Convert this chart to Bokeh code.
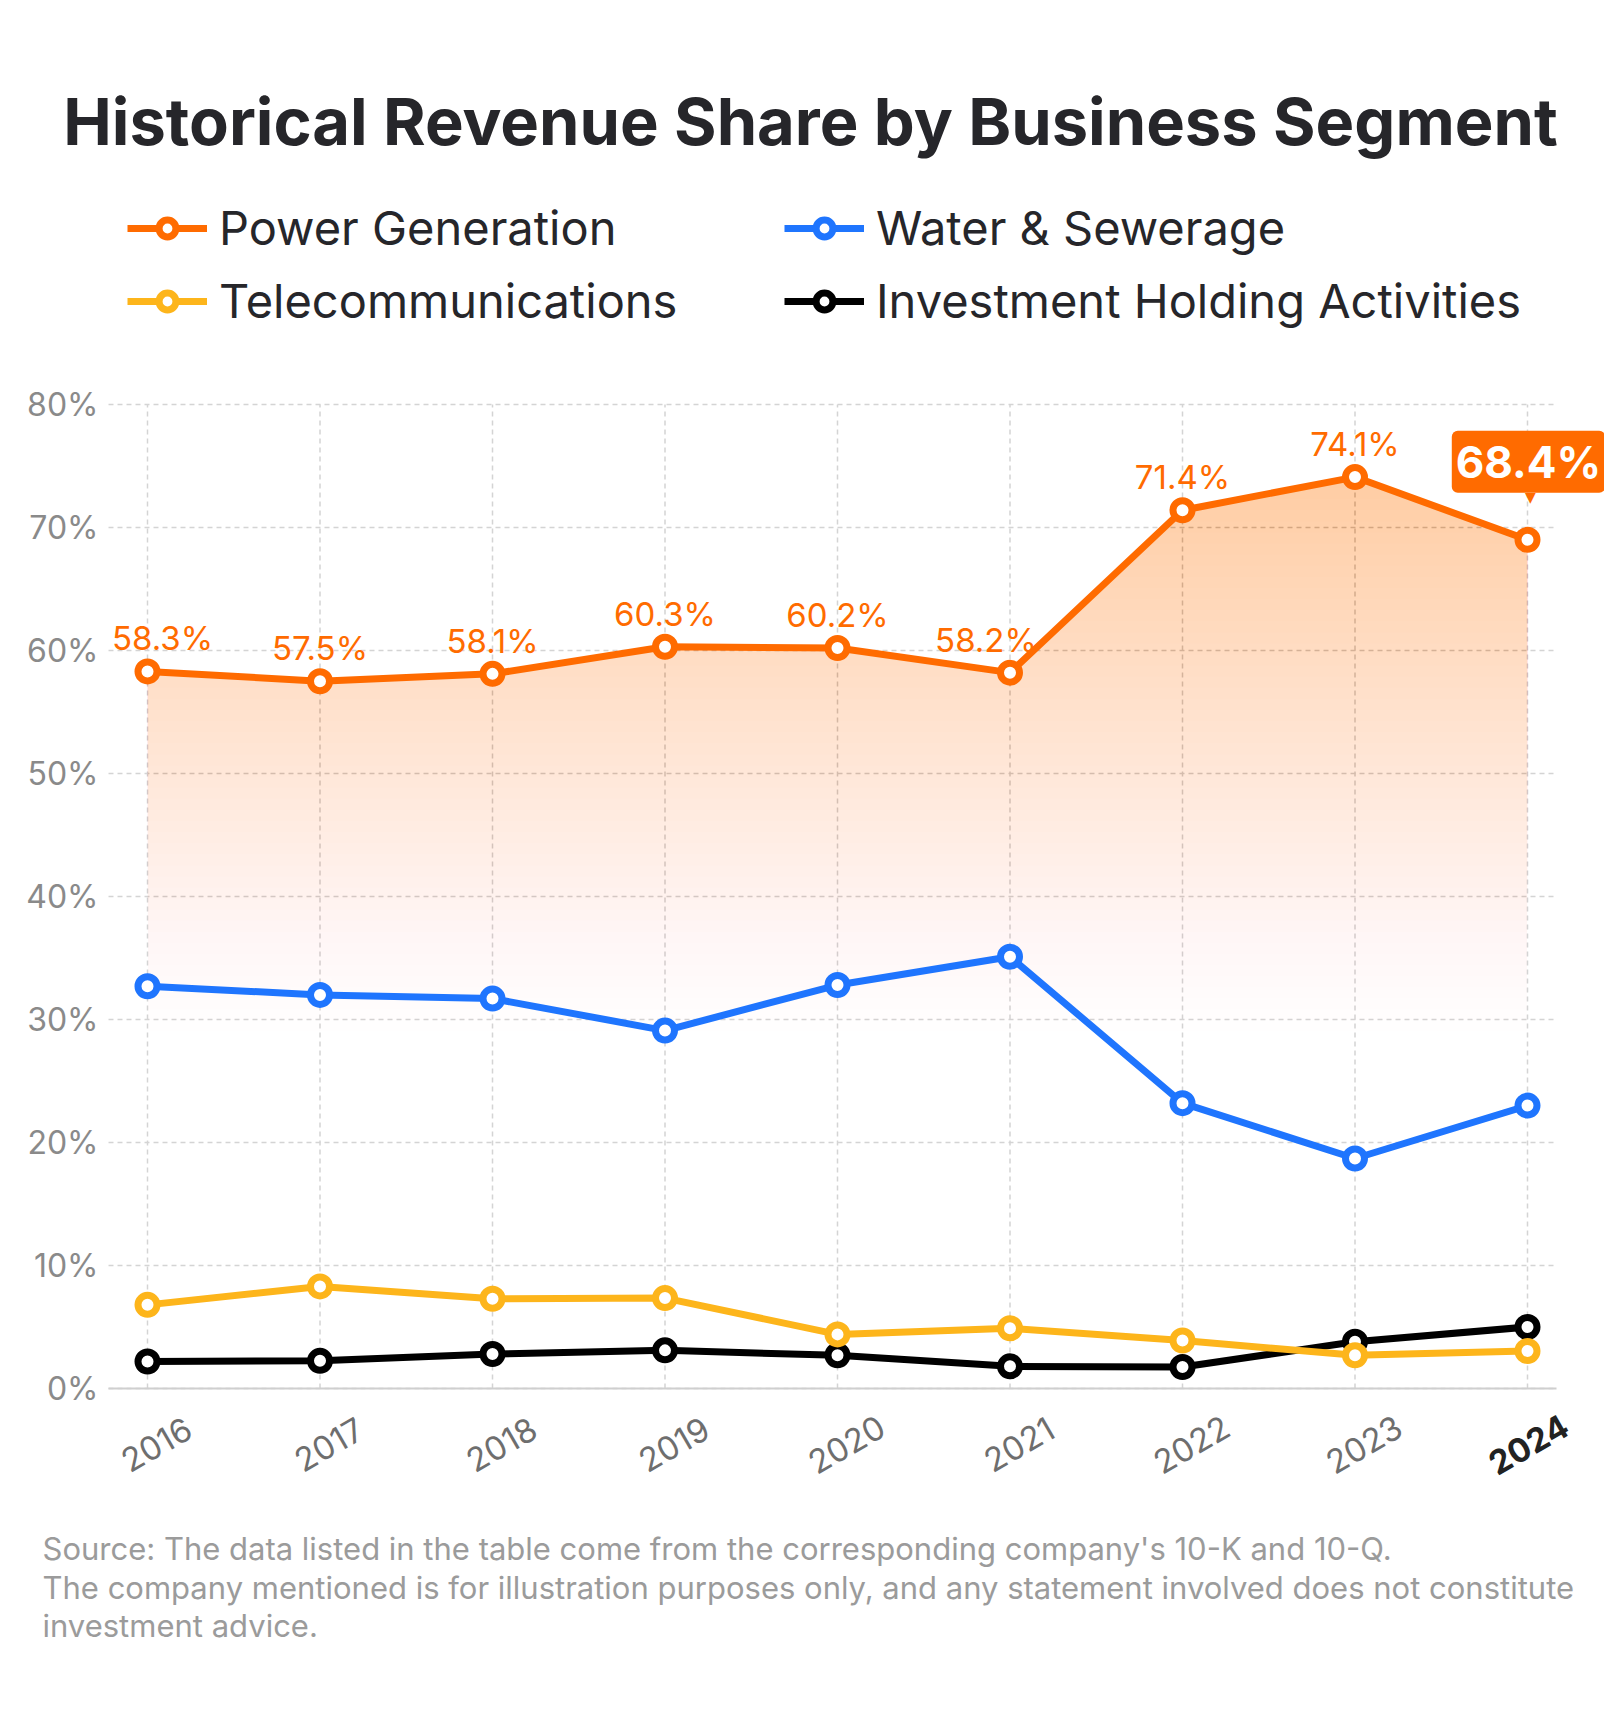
import numpy as np
from bokeh.plotting import figure
from bokeh.models import (Range1d, Label, ColumnDataSource, Legend, LegendItem)
from bokeh.core.properties import value
from bokeh.embed import file_html
from bokeh.resources import INLINE

# ---------------- data ----------------
years = ["2016", "2017", "2018", "2019", "2020", "2021", "2022", "2023", "2024"]
power_generation = [58.3, 57.5, 58.1, 60.3, 60.2, 58.2, 71.4, 74.1, 69.0]
power_labels = ["58.3%", "57.5%", "58.1%", "60.3%", "60.2%", "58.2%", "71.4%", "74.1%", "68.4%"]
water_sewerage = [32.7, 32.0, 31.7, 29.1, 32.8, 35.1, 23.2, 18.7, 23.0]
telecommunications = [6.8, 8.3, 7.3, 7.35, 4.4, 4.9, 3.9, 2.7, 3.05]
investment_holding = [2.2, 2.25, 2.8, 3.1, 2.7, 1.8, 1.75, 3.8, 5.0]
series_names = ["Power Generation", "Water & Sewerage", "Telecommunications",
                "Investment Holding Activities"]
y_ticks = [0, 10, 20, 30, 40, 50, 60, 70, 80]
y_tick_labels = ["0%", "10%", "20%", "30%", "40%", "50%", "60%", "70%", "80%"]
title_text = "Historical Revenue Share by Business Segment"
footer_lines = [
    "Source: The data listed in the table come from the corresponding company's 10-K and 10-Q.",
    "The company mentioned is for illustration purposes only, and any statement involved does not constitute",
    "investment advice.",
]

# ---------------- layout / styles ----------------
W, H = 1604, 1710
FONT = "Inter"
ORANGE = "#FF6B00"
BLUE = "#1F75FE"
YELLOW = "#FDB51B"
BLACK = "#000000"
colors = [ORANGE, BLUE, YELLOW, BLACK]
label_shift = [15, 0, 0, 0, 0, -24, 0, 0]   # horizontal nudges of value labels (px)

# pixel geometry of the plotting area
X0_PX, DX_PX = 147.0, 172.5      # pixel x of first category, pixels per category
Y0_PX, DY_PX = 1388.0, 12.3      # pixel y of 0 %, pixels per percentage point
AREA_LEFT_PX, AREA_RIGHT_PX = 108.0, 1556.0


def px_x(u):
    return (u - X0_PX) / DX_PX


def px_y(v):
    return (Y0_PX - v) / DY_PX


xs = np.arange(len(years))
gx0, gx1 = px_x(AREA_LEFT_PX), px_x(AREA_RIGHT_PX)

p = figure(width=W, height=H,
           x_range=Range1d(px_x(0), px_x(W)), y_range=Range1d(px_y(H), px_y(0)),
           min_border=0, toolbar_location=None, output_backend="svg",
           outline_line_color=None, background_fill_color="white",
           border_fill_color="white")
p.axis.visible = False
p.grid.visible = False

# grid
grid_kw = dict(line_color="#d4d4d4", line_width=1.5, line_dash="5 4")
p.segment(x0=[gx0] * len(y_ticks), x1=[gx1] * len(y_ticks), y0=y_ticks, y1=y_ticks, **grid_kw)
p.segment(x0=xs, x1=xs, y0=[y_ticks[0]] * len(xs), y1=[y_ticks[-1]] * len(xs), **grid_kw)
p.segment(x0=[gx0], x1=[gx1], y0=[y_ticks[0]], y1=[y_ticks[0]],
          line_color="#cfcfcf", line_width=2)

# y tick labels
p.text(x=[gx0] * len(y_ticks), y=y_ticks, text=y_tick_labels, x_offset=-10,
       text_align="right", text_baseline="middle", text_font=value(FONT),
       text_font_size="32px", text_color="#8a8a8a")

# gradient area under power generation (stacked translucent layers)
ys = np.array(power_generation, dtype=float)
floor, top, top_alpha, n = 29.0, ys.max(), 0.28, 50
prev = 0.0
for k in range(n):
    lo = floor + (top - floor) * k / n
    target = top_alpha * (k + 1) / n
    a = 1 - (1 - target) / (1 - prev)
    prev = target
    pts = set(xs.tolist())
    for i in range(len(xs) - 1):
        y0, y1 = ys[i], ys[i + 1]
        if (y0 - lo) * (y1 - lo) < 0:
            pts.add(xs[i] + (lo - y0) / (y1 - y0))
    X = np.array(sorted(pts))
    L = np.interp(X, xs, ys)
    p.varea(x=X, y1=np.minimum(lo, L), y2=L, fill_color=ORANGE, fill_alpha=a)

# series
all_series = [power_generation, water_sewerage, telecommunications, investment_holding]
renderers = []
for vals, col in list(zip(all_series, colors))[::-1]:
    lr = p.line(xs, vals, line_color=col, line_width=7)
    sr = p.scatter(xs, vals, size=19, marker="circle", fill_color="white",
                   line_color=col, line_width=7)
    renderers.append((lr, sr))
renderers = renderers[::-1]

# value labels on power generation
lab_src = ColumnDataSource(dict(x=xs[:-1], y=power_generation[:-1],
                                t=power_labels[:-1], dx=label_shift))
p.text(x="x", y="y", text="t", source=lab_src, x_offset="dx", y_offset=-33,
       text_align="center", text_baseline="alphabetic",
       text_font=value(FONT), text_font_size="33px", text_color=ORANGE)

# callout for the latest value
p.add_layout(Label(x=xs[-1], y=power_generation[-1], text=power_labels[-1],
                   x_offset=1, y_offset=78, text_align="center", text_baseline="middle",
                   text_font=FONT, text_font_size="44px", text_font_style="bold",
                   text_color="white", background_fill_color=ORANGE,
                   border_radius=6, padding=4))
p.add_layout(Label(x=xs[-1], y=power_generation[-1], text="\u25BC",
                   x_offset=3, y_offset=43, text_align="center", text_baseline="middle",
                   text_font="DejaVu Sans", text_font_size="14px", text_color=ORANGE))

# x tick labels (rotated)
tick_y = px_y(1444)
p.text(x=xs[:-1], y=[tick_y] * (len(xs) - 1), text=years[:-1], x_offset=9,
       angle=np.pi / 6, text_align="center", text_baseline="middle",
       text_font=value(FONT), text_font_size="33px", text_color="#6e6e6e")
p.text(x=xs[-1:], y=[tick_y], text=years[-1:], x_offset=1,
       angle=np.pi / 6, text_align="center", text_baseline="middle",
       text_font=value(FONT), text_font_size="33px", text_font_style="bold",
       text_color="#222222")

# title
p.add_layout(Label(x=W / 2 + 8, y=H - 121, x_units="screen", y_units="screen", text=title_text,
                   text_align="center", text_baseline="alphabetic", text_font=FONT,
                   text_font_size="65px", text_font_style="bold", text_color="#26262a"))

# legend (four single-item legends laid out as a 2x2 grid)
leg_pos = [(127, H - 256), (784, H - 256), (127, H - 329), (784, H - 329)]
for (lr, sr), name, pos in zip(renderers, series_names, leg_pos):
    leg = Legend(items=[LegendItem(label=name, renderers=[lr, sr])], location=pos,
                 glyph_width=80, glyph_height=42, label_standoff=12,
                 label_text_font=FONT, label_text_font_size="47px",
                 label_text_color="#26262a", padding=0, margin=0,
                 border_line_color=None, background_fill_alpha=0)
    p.add_layout(leg, "center")

# footer
for i, line in enumerate(footer_lines):
    p.add_layout(Label(x=42, y=H - 1548 - 38.5 * i, x_units="screen", y_units="screen",
                       text=line, text_align="left", text_baseline="alphabetic",
                       text_font=FONT, text_font_size="31px", text_color="#9b9b9b"))

open("out.html", "w").write(file_html(p, INLINE))
